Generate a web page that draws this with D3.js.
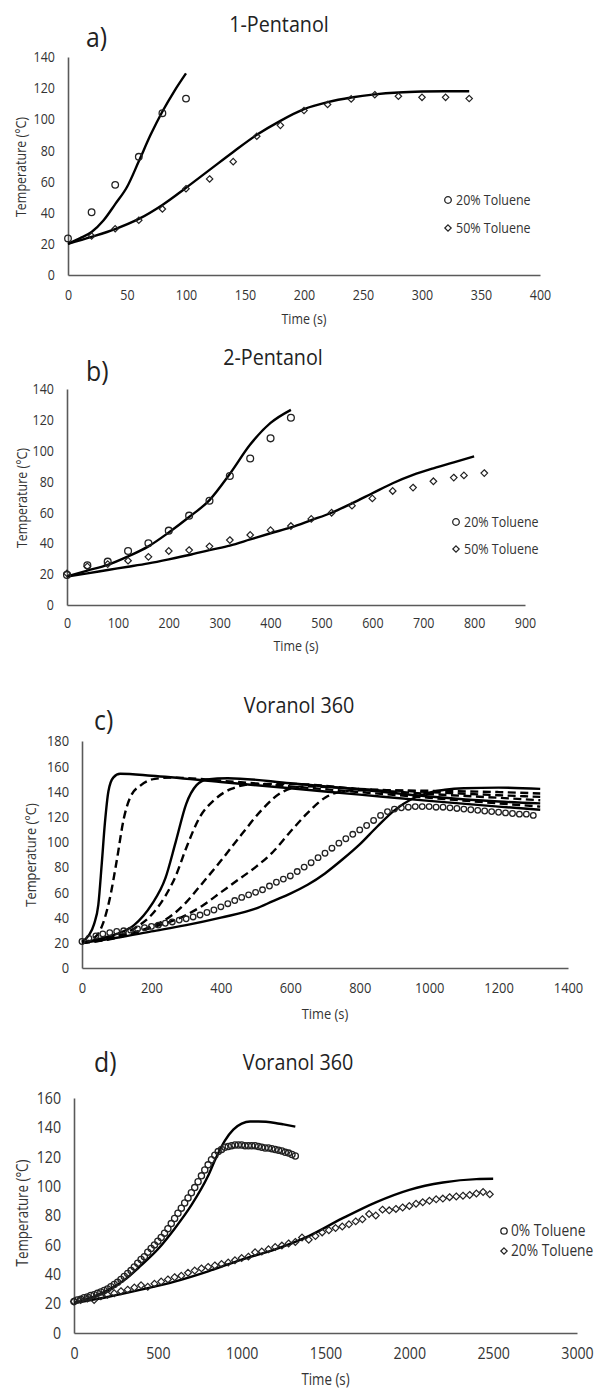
<!DOCTYPE html>
<html>
<head>
<meta charset="utf-8">
<script src="https://cdn.jsdelivr.net/npm/d3@7"></script>
<style>
  body { margin: 0; background: #fff; }
  svg text { font-family: "Open Sans", sans-serif; fill: #333; }
</style>
</head>
<body>
<svg id="fig" width="605" height="1389"></svg>
<script>
// ---------- a) 1-Pentanol ----------
const aXTicks = [0, 50, 100, 150, 200, 250, 300, 350, 400];
const aYTicks = [0, 20, 40, 60, 80, 100, 120, 140];
const aTime20 = [0, 20, 40, 60, 80, 100];
const aTemp20 = [23.5, 40.3, 57.9, 75.9, 103.9, 113.3];
const aTime50 = [20, 40, 60, 80, 100, 120, 140, 160, 180, 200, 220, 240, 260, 280, 300, 320, 340];
const aTemp50 = [25, 29.7, 35.2, 42.4, 55.4, 61.7, 72.8, 89.1, 96.1, 105.6, 109.5, 113.1, 115.8, 114.8, 114.1, 114.1, 113.3];
const aFitTime20 = [0, 10, 20, 30, 40, 50, 60, 70, 80, 90, 100];
const aFit20 = [20, 23.5, 27.6, 35, 45.5, 56.5, 73, 90, 105, 118, 129.5];
const aFitTime50 = [0, 20, 40, 60, 80, 100, 120, 140, 160, 180, 200, 220, 240, 260, 280, 300, 320, 340];
const aFit50 = [20, 24.5, 29.5, 36, 45, 56, 67.5, 79, 90, 99, 106.5, 111, 114, 116, 117.2, 117.8, 118, 118];

// ---------- b) 2-Pentanol ----------
const bXTicks = [0, 100, 200, 300, 400, 500, 600, 700, 800, 900];
const bYTicks = [0, 20, 40, 60, 80, 100, 120, 140];
const bTime20 = [0, 40, 80, 120, 160, 200, 240, 280, 320, 360, 400, 440];
const bTemp20 = [19.5, 25.7, 28.1, 35, 40, 48.2, 57.9, 67.6, 83.6, 95, 108, 121.4];
const bTime50 = [0, 40, 80, 120, 160, 200, 240, 280, 320, 360, 400, 440, 480, 520, 560, 600, 640, 680, 720, 760, 780, 820];
const bTemp50 = [20.5, 25, 26.5, 28.7, 31.2, 35, 35.6, 38, 42.1, 45.4, 48.5, 51.2, 55.8, 59.8, 64.4, 69.1, 73.9, 76.1, 80.2, 82.6, 84, 85.5];
const bFitTime20 = [0, 40, 80, 120, 160, 200, 240, 280, 320, 360, 400, 440];
const bFit20 = [18.5, 22.3, 26, 31.5, 38, 47, 57, 68, 85, 104, 118, 126.5];
const bFitTime50 = [0, 40, 80, 120, 160, 200, 240, 280, 320, 360, 400, 440, 480, 520, 560, 600, 640, 680, 720, 760, 800];
const bFit50 = [18.5, 20.5, 22.7, 24.8, 27, 29.6, 32.4, 35.6, 38.5, 42.5, 46.5, 50.3, 55, 59.8, 65.9, 72.4, 78.9, 84.3, 88.6, 92.5, 96.3];

// ---------- c) Voranol 360 (model family + measured) ----------
const cXTicks = [0, 200, 400, 600, 800, 1000, 1200, 1400];
const cYTicks = [0, 20, 40, 60, 80, 100, 120, 140, 160, 180];
const cTimeObs = [0, 20, 40, 60, 80, 100, 120, 140, 160, 180, 200, 220, 240, 260, 280, 300, 320, 340, 360, 380,
  400, 420, 440, 460, 480, 500, 520, 540, 560, 580, 600, 620, 640, 660, 680, 700, 720, 740, 760, 780,
  800, 820, 840, 860, 880, 900, 920, 940, 960, 980, 1000, 1020, 1040, 1060, 1080, 1100, 1120, 1140, 1160, 1180,
  1200, 1220, 1240, 1260, 1280, 1300];
const cTempObs = [21, 23.5, 25.5, 27, 28, 29, 29.5, 30, 31, 32, 33, 34, 35.5, 36.5, 38, 39, 40.5, 42, 44, 46,
  48.5, 51, 53.5, 56, 58, 60, 62, 65, 68, 70.5, 73, 76.5, 80, 83.5, 87.5, 91, 95, 99, 102.5, 106,
  109.5, 113, 117, 121, 124, 126, 127, 127.5, 128, 128, 128, 127.5, 127.5, 127, 126.5, 126, 125.5, 125, 124.5, 124,
  123.5, 123, 122.5, 122, 122, 121];
const cFitTime1 = [0, 20, 35, 47, 57, 66, 76, 90, 110, 200, 400, 600, 800, 1000, 1200, 1320];
const cFit1 = [21, 26, 35, 50, 83, 115, 140, 151, 154, 152.5, 147.5, 142.5, 137.5, 132.5, 128, 125.5];
const cFitTime2 = [0, 40, 60, 80, 100, 120, 140, 170, 210, 260, 400, 600, 800, 1000, 1200, 1320];
const cFit2 = [20, 25, 35, 55, 85, 118, 136, 145, 150, 151, 148.5, 144, 139.5, 135, 130.5, 128];
const cFitTime3 = [0, 50, 100, 150, 200, 240, 270, 300, 330, 360, 420, 600, 800, 1000, 1200, 1320];
const cFit3 = [20, 23, 27, 34, 50, 71, 100, 130, 145, 149.5, 150.5, 146.5, 141.5, 136, 132, 130.5];
const cFitTime4 = [0, 100, 160, 200, 240, 270, 300, 340, 380, 430, 500, 600, 800, 1000, 1200, 1320];
const cFit4 = [20, 25, 33, 42, 57, 73, 95, 120, 133, 142, 146, 146, 142, 138, 135, 133];
const cFitTime5 = [0, 100, 200, 250, 300, 340, 400, 460, 520, 580, 640, 800, 1000, 1200, 1320];
const cFit5 = [20, 24, 33, 40, 52, 65, 85, 106, 126, 140, 144, 142, 139.5, 137, 135.7];
const cFitTime6 = [0, 100, 200, 300, 350, 400, 450, 500, 550, 600, 650, 700, 740, 800, 1000, 1200, 1320];
const cFit6 = [20, 25, 32, 42, 50, 60, 70, 80, 92, 108, 123, 135, 139.5, 141, 140.5, 139.5, 138.4];
const cFitTime7 = [0, 100, 200, 300, 400, 500, 550, 600, 650, 700, 750, 800, 850, 900, 950, 1000, 1100, 1200, 1320];
const cFit7 = [20, 24, 29, 34, 40, 47, 53, 59, 66, 75, 86, 98, 112, 125, 134, 139, 142.5, 143, 142];

// ---------- d) Voranol 360 ----------
const dXTicks = [0, 500, 1000, 1500, 2000, 2500, 3000];
const dYTicks = [0, 20, 40, 60, 80, 100, 120, 140, 160];
const dTime0 = [0, 20, 40, 60, 80, 100, 120, 140, 160, 180, 200, 220, 240, 260, 280, 300, 320, 340, 360, 380,
  400, 420, 440, 460, 480, 500, 520, 540, 560, 580, 600, 620, 640, 660, 680, 700, 720, 740, 760, 780,
  800, 820, 840, 860, 880, 900, 920, 940, 960, 980, 1000, 1020, 1040, 1060, 1080, 1100, 1120, 1140, 1160, 1180,
  1200, 1220, 1240, 1260, 1280, 1300, 1320];
const dTemp0 = [21.5, 22.5, 23, 24, 24.5, 25.5, 26, 27, 28, 29, 30, 31.5, 33, 34.5, 36.5, 38.5, 40.5, 42.5, 45, 47.5,
  50, 52, 55, 57.5, 60, 62.5, 65, 68, 71, 74.5, 78, 81.5, 85, 88.5, 92, 95.5, 99, 103, 107, 111,
  114.5, 118, 121, 123.5, 125, 126.5, 127, 127.5, 128, 128, 128, 127.5, 127.5, 127.5, 127.5, 127, 126.5, 126, 126, 125.5,
  125, 124.5, 124, 123, 122.5, 121.5, 120.5];
const dTime20 = [0, 40, 80, 120, 160, 200, 240, 280, 320, 360, 400, 440, 480, 520, 560, 600, 640, 680, 720, 760,
  800, 840, 880, 920, 960, 1000, 1040, 1080, 1120, 1160, 1200, 1240, 1280, 1320, 1360, 1400, 1440, 1480, 1520, 1560,
  1600, 1640, 1680, 1720, 1760, 1800, 1840, 1880, 1920, 1960, 2000, 2040, 2080, 2120, 2160, 2200, 2240, 2280, 2320, 2360,
  2400, 2440, 2480];
const dTemp20 = [21.5, 22.5, 23.5, 22.5, 25, 26, 27, 28.5, 29.5, 31, 32.5, 31.5, 33.5, 35, 36.5, 38, 39, 41, 42.5, 44,
  45, 46, 47, 48, 49.5, 51, 52, 55, 55.5, 57, 58.5, 59.5, 61, 62, 65, 63.5, 66, 68.5, 70, 71.5,
  72.5, 74, 76, 77.5, 81, 80, 84, 83.5, 84.5, 85.5, 86.5, 88, 89, 90, 91, 91.5, 92.5, 93, 93.5, 94,
  95, 96, 94.5];
const dFitTime0 = [0, 100, 200, 300, 400, 500, 600, 700, 800, 850, 900, 950, 1000, 1050, 1100, 1200, 1250, 1320];
const dFit0 = [20.5, 24, 29, 36, 46, 57, 71, 87, 107, 120, 131, 138.5, 142.5, 144, 144, 143, 142, 140.5];
const dFitTime20 = [0, 200, 400, 600, 800, 1000, 1200, 1400, 1600, 1800, 2000, 2200, 2400, 2500];
const dFit20 = [20.5, 24.5, 29.5, 35, 42, 50, 57, 66, 78, 89, 97.5, 102.5, 104.8, 105];

// text in the source figure is a little squeezed sideways
const SX = 0.86;
const svg = d3.select("#fig");

function addText(x, y, str, size, anchor, rot, sx) {
  return svg.append("text")
    .attr("transform", `translate(${x},${y})` + (rot ? ` rotate(${rot})` : "") + ` scale(${sx || SX},1)`)
    .attr("text-anchor", anchor || "start")
    .style("font-size", size + "px")
    .text(str);
}

function diamondPath(r) {
  return `M0,${-r}L${r},0L0,${r}L${-r},0Z`;
}

function drawMarkers(g, x, y, t, v, shape, size) {
  const pts = d3.zip(t, v);
  if (shape === "circle") {
    g.append("g").selectAll("circle").data(pts).join("circle")
      .attr("cx", d => x(d[0])).attr("cy", d => y(d[1]))
      .attr("r", size).attr("fill", "none")
      .attr("stroke", "#222").attr("stroke-width", 1.3);
  } else {
    g.append("g").selectAll("path").data(pts).join("path")
      .attr("transform", d => `translate(${x(d[0])},${y(d[1])})`)
      .attr("d", diamondPath(size)).attr("fill", "none")
      .attr("stroke", "#222").attr("stroke-width", 1.2);
  }
}

function drawPanel(p) {
  const x = d3.scaleLinear().domain([0, p.xTicks[p.xTicks.length - 1]]).range([p.left, p.right]);
  const y = d3.scaleLinear().domain([0, p.yTicks[p.yTicks.length - 1]]).range([p.bottom, p.top]);
  const g = svg.append("g");

  const gx = g.append("g").attr("transform", `translate(0,${p.bottom})`)
    .call(d3.axisBottom(x).tickValues(p.xTicks).tickSize(0).tickPadding(p.xPad).tickFormat(d3.format("d")));
  const gy = g.append("g").attr("transform", `translate(${p.left},0)`)
    .call(d3.axisLeft(y).tickValues(p.yTicks).tickSize(0).tickPadding(13 / SX).tickFormat(d3.format("d")));
  [gx, gy].forEach(a => {
    a.attr("font-family", null).attr("font-size", null);
    a.select(".domain").attr("stroke", "#5a5a5a").attr("stroke-width", 1.6);
    a.selectAll(".tick text")
      .style("font-size", p.tickSize + "px")
      .attr("transform", `scale(${SX},1)`);
  });

  // model curves
  const line = d3.line().x(d => x(d[0])).y(d => y(d[1])).curve(d3.curveMonotoneX);
  p.fits.forEach(f => {
    g.append("path").datum(d3.zip(f.t, f.v))
      .attr("d", line).attr("fill", "none")
      .attr("stroke", "#000").attr("stroke-width", 2.4)
      .attr("stroke-dasharray", f.dash ? "8,4.5" : null);
  });

  // measured points
  p.obs.forEach(s => drawMarkers(g, x, y, s.t, s.v, s.shape, s.size));

  // legend
  (p.legend || []).forEach(l => {
    const lg = svg.append("g").attr("transform", `translate(${l.x},${l.y})`);
    if (l.shape === "circle") {
      lg.append("circle").attr("r", l.size).attr("fill", "none").attr("stroke", "#222").attr("stroke-width", 1.3);
    } else {
      lg.append("path").attr("d", diamondPath(l.size)).attr("fill", "none").attr("stroke", "#222").attr("stroke-width", 1.2);
    }
    addText(l.x + l.gap, l.y + 5, l.label, p.legendSize);
  });

  addText(p.title[0], p.title[1], p.title[2], 21, "middle", null, 0.94).style("fill", "#222");
  addText(p.tag[0], p.tag[1], p.tag[2], 27, "start", null, 0.92).style("fill", "#222");
  addText((p.left + p.right) / 2, p.xLabelY, "Time (s)", p.labelSize, "middle");
  addText(p.yLabel[0], p.yLabel[1], "Temperature (°C)", p.labelSize, "middle", -90);
}

drawPanel({
  left: 68, right: 540, top: 57, bottom: 275, xPad: 15, tickSize: 14.5,
  xTicks: aXTicks, yTicks: aYTicks, labelSize: 14.5, legendSize: 14.5,
  title: [279, 32, "1-Pentanol"], tag: [86, 47, "a)"], xLabelY: 324, yLabel: [26, 167],
  fits: [{ t: aFitTime20, v: aFit20 }, { t: aFitTime50, v: aFit50 }],
  obs: [
    { t: aTime20, v: aTemp20, shape: "circle", size: 3.3 },
    { t: aTime50, v: aTemp50, shape: "diamond", size: 3.2 }
  ],
  legend: [
    { x: 448, y: 200, shape: "circle", size: 3.3, gap: 8, label: "20% Toluene" },
    { x: 448, y: 228, shape: "diamond", size: 3.2, gap: 8, label: "50% Toluene" }
  ]
});

drawPanel({
  left: 67, right: 525, top: 389, bottom: 605, xPad: 13, tickSize: 14.5,
  xTicks: bXTicks, yTicks: bYTicks, labelSize: 14.5, legendSize: 14.5,
  title: [273, 365, "2-Pentanol"], tag: [86, 381, "b)"], xLabelY: 651, yLabel: [27, 498],
  fits: [{ t: bFitTime20, v: bFit20 }, { t: bFitTime50, v: bFit50 }],
  obs: [
    { t: bTime20, v: bTemp20, shape: "circle", size: 3.4 },
    { t: bTime50, v: bTemp50, shape: "diamond", size: 3.3 }
  ],
  legend: [
    { x: 456, y: 522, shape: "circle", size: 3.3, gap: 8, label: "20% Toluene" },
    { x: 456, y: 549, shape: "diamond", size: 3.2, gap: 8, label: "50% Toluene" }
  ]
});

drawPanel({
  left: 82, right: 568, top: 741, bottom: 968, xPad: 14, tickSize: 15,
  xTicks: cXTicks, yTicks: cYTicks, labelSize: 15, legendSize: 15,
  title: [299, 713, "Voranol 360"], tag: [94, 730, "c)"], xLabelY: 1019, yLabel: [36, 855],
  fits: [
    { t: cFitTime1, v: cFit1 }, { t: cFitTime2, v: cFit2, dash: true },
    { t: cFitTime3, v: cFit3 }, { t: cFitTime4, v: cFit4, dash: true },
    { t: cFitTime5, v: cFit5, dash: true }, { t: cFitTime6, v: cFit6, dash: true },
    { t: cFitTime7, v: cFit7 }
  ],
  obs: [{ t: cTimeObs, v: cTempObs, shape: "circle", size: 2.8 }]
});

drawPanel({
  left: 74, right: 577, top: 1098, bottom: 1333, xPad: 14, tickSize: 16.5,
  xTicks: dXTicks, yTicks: dYTicks, labelSize: 15.5, legendSize: 16,
  title: [298, 1070, "Voranol 360"], tag: [94, 1072, "d)"], xLabelY: 1385, yLabel: [28, 1213],
  fits: [{ t: dFitTime0, v: dFit0 }, { t: dFitTime20, v: dFit20 }],
  obs: [
    { t: dTime0, v: dTemp0, shape: "circle", size: 3.1 },
    { t: dTime20, v: dTemp20, shape: "diamond", size: 3.4 }
  ],
  legend: [
    { x: 504, y: 1231, shape: "circle", size: 3.2, gap: 7, label: "0% Toluene" },
    { x: 504, y: 1251, shape: "diamond", size: 3.2, gap: 7, label: "20% Toluene" }
  ]
});
</script>
</body>
</html>
